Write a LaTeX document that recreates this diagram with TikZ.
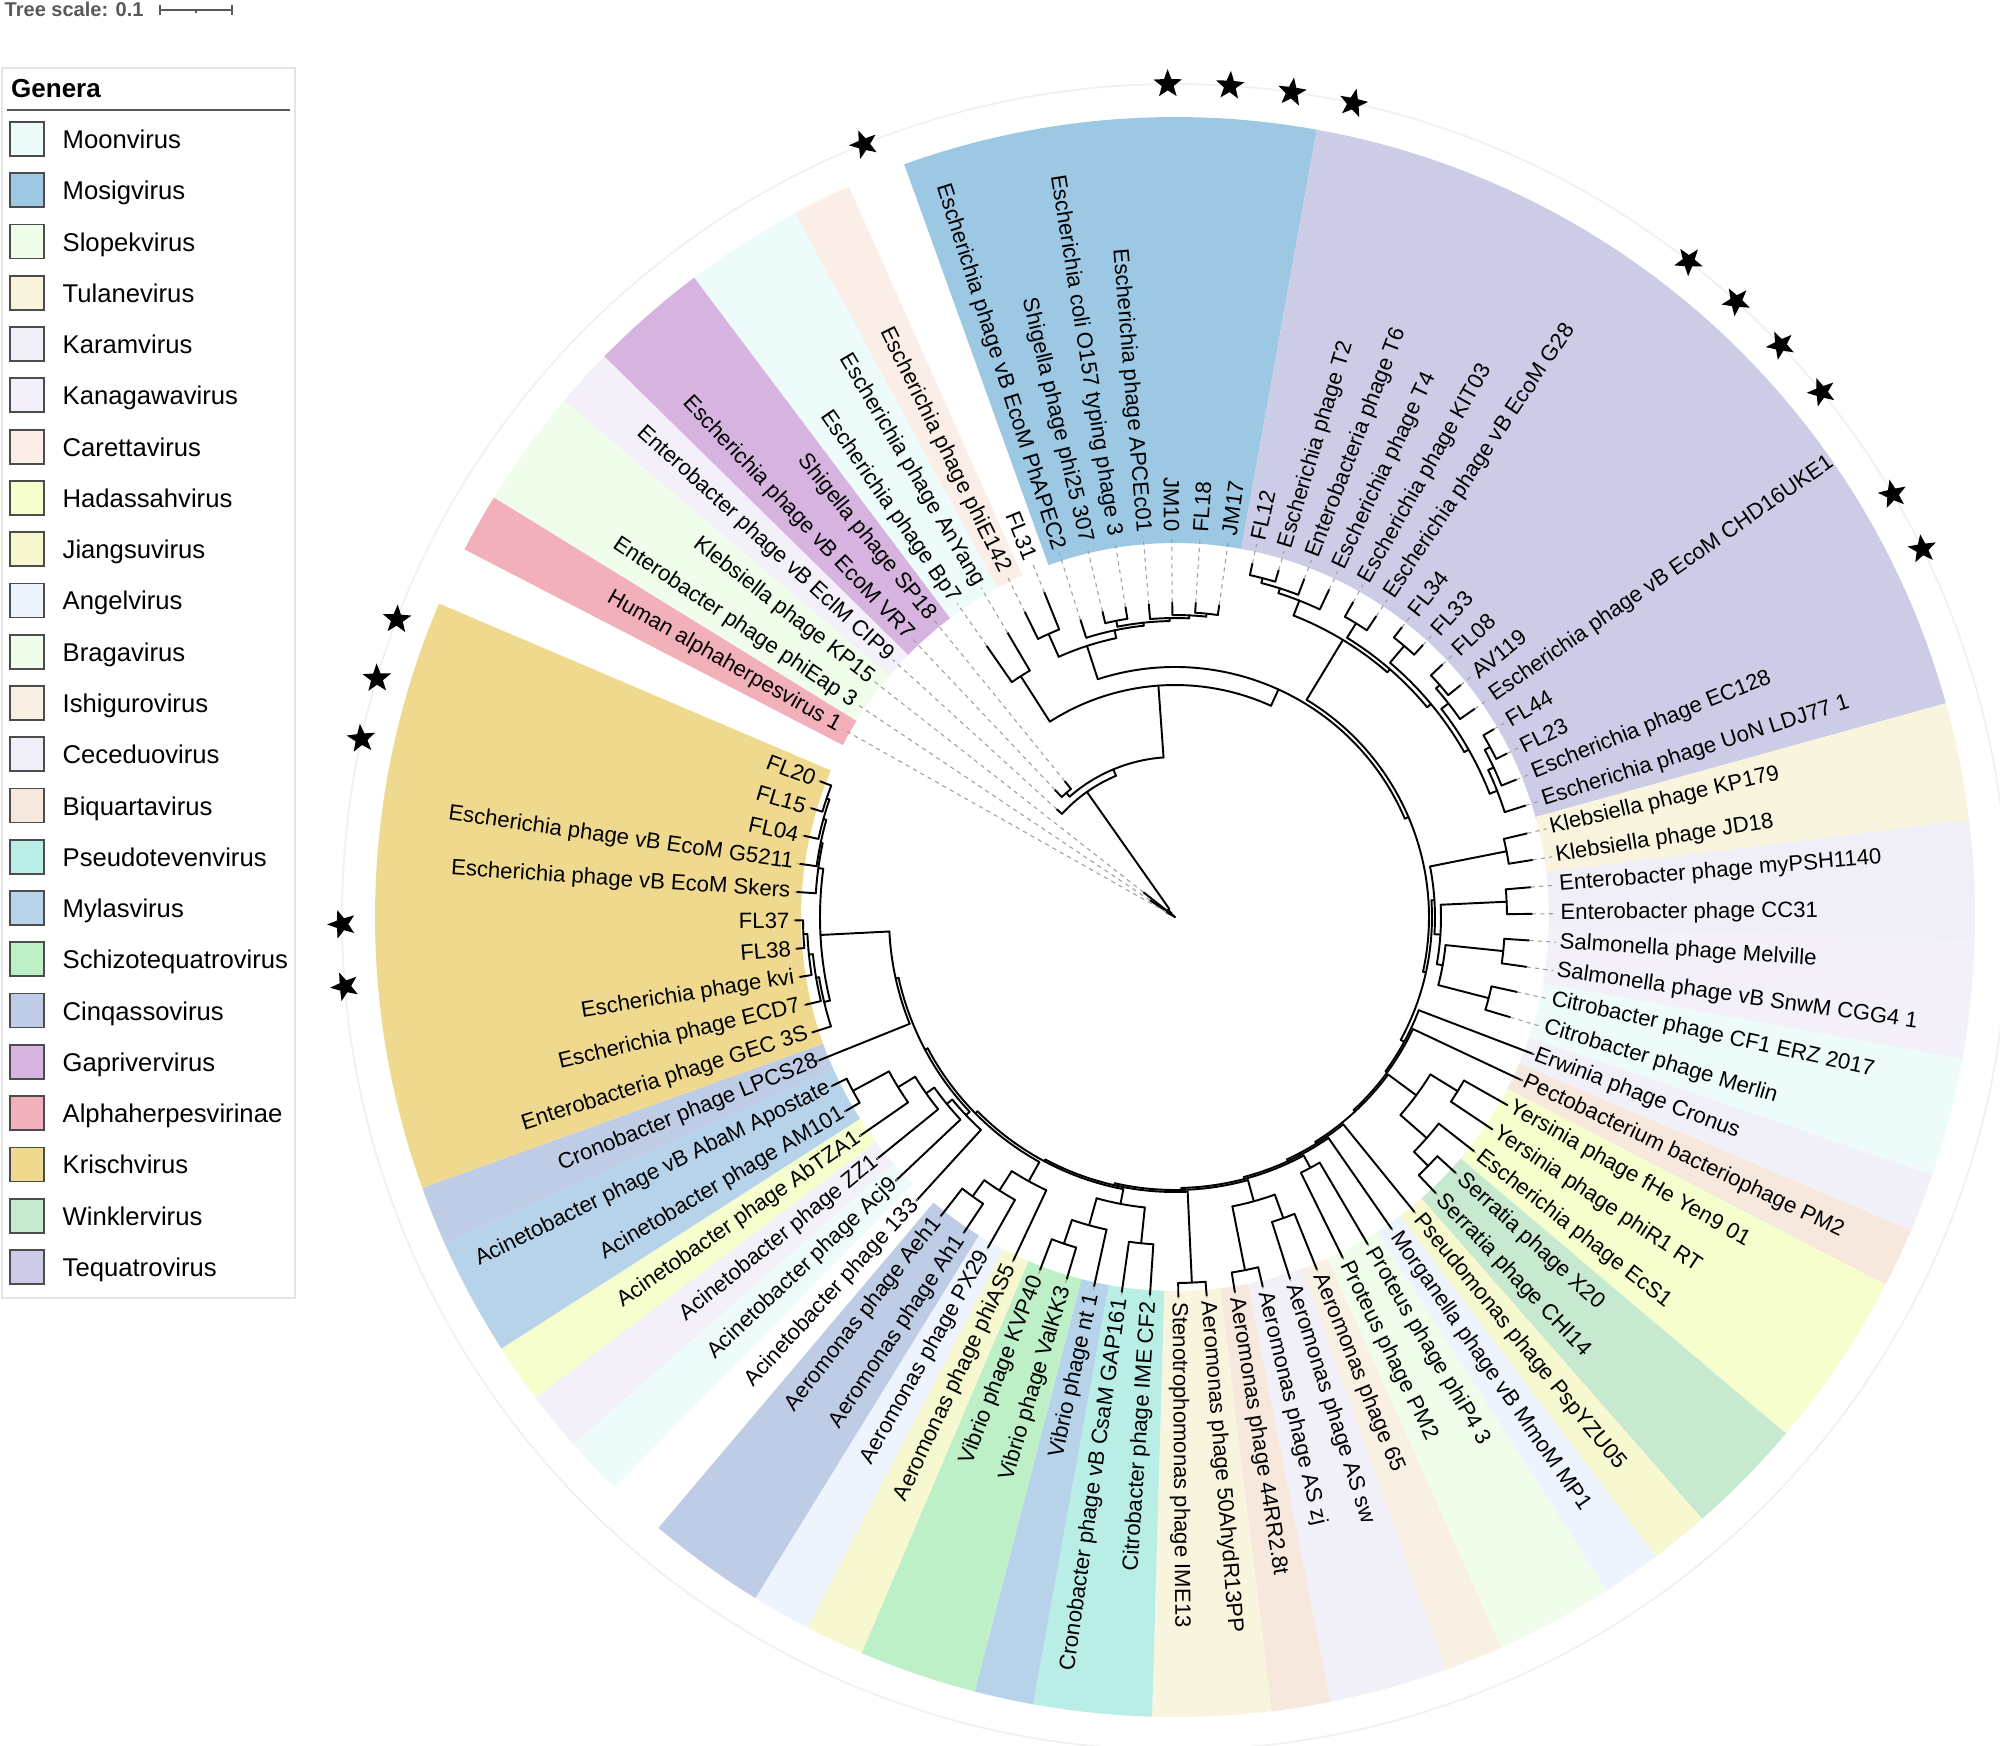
\documentclass[tikz,border=0pt]{standalone}
\usepackage{fontspec}
\setmainfont{Liberation Sans}
\usetikzlibrary{shapes.geometric}
\definecolor{cMoon}{HTML}{EEFBFB}
\definecolor{cMosig}{HTML}{9DC8E4}
\definecolor{cSlope}{HTML}{F0FDEA}
\definecolor{cTulane}{HTML}{F9F4DE}
\definecolor{cKaram}{HTML}{F0EFF8}
\definecolor{cKana}{HTML}{F3F0F9}
\definecolor{cCaret}{HTML}{FAEEE6}
\definecolor{cHadas}{HTML}{F5FECC}
\definecolor{cJiang}{HTML}{F7F7D0}
\definecolor{cAngel}{HTML}{EEF4FD}
\definecolor{cBraga}{HTML}{EFFDEA}
\definecolor{cIshig}{HTML}{F8F0E2}
\definecolor{cCeced}{HTML}{F1F0F8}
\definecolor{cBiq}{HTML}{F7E8DD}
\definecolor{cPseudo}{HTML}{B9EEE6}
\definecolor{cMylas}{HTML}{B7D3E9}
\definecolor{cSchizo}{HTML}{BEF0C7}
\definecolor{cCinq}{HTML}{BFCCE5}
\definecolor{cGapr}{HTML}{D6B4DF}
\definecolor{cAlpha}{HTML}{F2B0BB}
\definecolor{cKrisch}{HTML}{EFD98E}
\definecolor{cWinkl}{HTML}{C7E9CF}
\definecolor{cTeq}{HTML}{CDCCE6}
\definecolor{tscol}{HTML}{595959}
\def\aZ{150.5}\def\dA{4.2857}\def\Rl{3.85}\def\Rin{3.74}\def\Rout{8.00}
\newcommand\Ar[3]{\draw[brn] ({\aZ-\dA*(#1)}:#3) arc[start angle={\aZ-\dA*(#1)}, end angle={\aZ-\dA*(#2)}, radius=#3];}
\newcommand\Rd[3]{\draw[brn] ({\aZ-\dA*(#1)}:#2) -- ({\aZ-\dA*(#1)}:#3);}
\newcommand\Dl[2]{\draw[dsh] ({\aZ-\dA*(#1)}:#2) -- ({\aZ-\dA*(#1)}:\Rl-0.03);}
\newcommand\Lf[3]{\Rd{#1}{#2}{#3}\Dl{#1}{#3}}
\newcommand\Band[3]{\fill[#3] ({\aZ-\dA*(#1-0.5)}:\Rin) arc[start angle={\aZ-\dA*(#1-0.5)}, end angle={\aZ-\dA*(#2+0.5)}, radius=\Rin] -- ({\aZ-\dA*(#2+0.5)}:\Rout) arc[start angle={\aZ-\dA*(#2+0.5)}, end angle={\aZ-\dA*(#1-0.5)}, radius=\Rout] -- cycle;}
\newcommand\Lab[2]{%
  \pgfmathsetmacro\tA{\aZ-\dA*(#1)}%
  \pgfmathtruncatemacro\tS{(\tA<-90 || \tA>90) ? 1 : 0}%
  \ifnum\tS=1
    \node[lab, anchor=east, rotate=\tA+180] (L#1) at (\tA:\Rl) {#2};
  \else
    \node[lab, anchor=west, rotate=\tA] (L#1) at (\tA:\Rl) {#2};
  \fi}
\begin{document}
\begin{tikzpicture}[x=1cm,y=1cm,
  brn/.style={line width=0.55pt, line cap=round, line join=round},
  dsh/.style={draw=black!38, line width=0.3pt, dash pattern=on 1.2pt off 1.2pt},
  lab/.style={inner sep=0pt, font=\fontsize{6.3}{7}\selectfont},
  starm/.style={star, star points=5, star point ratio=2.4, fill=black, draw=none, minimum size=0.30cm, inner sep=0pt}]
\useasboundingbox (-11.75,-8.28) rectangle (8.25,9.17);
% ---------- coloured ranges
\Band{0}{0}{cAlpha}
\Band{1}{2}{cSlope}
\Band{3}{3}{cKana}
\Band{4}{5}{cGapr}
\Band{6}{7}{cMoon}
\Band{8}{8}{cCaret}
\Band{10}{16}{cMosig}
\Band{17}{31}{cTeq}
\Band{32}{33}{cTulane}
\Band{34}{35}{cKaram}
\Band{36}{37}{cKana}
\Band{38}{39}{cMoon}
\Band{40}{40}{cCeced}
\Band{41}{41}{cBiq}
\Band{42}{44}{cHadas}
\Band{45}{46}{cWinkl}
\Band{47}{47}{cJiang}
\Band{48}{48}{cAngel}
\Band{49}{50}{cBraga}
\Band{51}{51}{cIshig}
\Band{52}{53}{cCeced}
\Band{54}{54}{cBiq}
\Band{55}{56}{cTulane}
\Band{57}{58}{cPseudo}
\Band{59}{59}{cMylas}
\Band{60}{61}{cSchizo}
\Band{62}{62}{cJiang}
\Band{63}{63}{cAngel}
\Band{64}{65}{cCinq}
\Band{67}{67}{cMoon}
\Band{68}{68}{cKana}
\Band{69}{69}{cHadas}
\Band{70}{71}{cMylas}
\Band{72}{72}{cCinq}
\Band{73}{82}{cKrisch}
\draw[black!6, line width=0.5pt] (0,0) circle[radius=8.33];
% ---------- tree: Krischvirus
\Ar{81}{82}{3.68} \Lf{81}{3.68}{3.80} \Lf{82}{3.68}{3.80}
\Ar{80}{81.5}{3.65} \Lf{80}{3.65}{3.80} \Rd{81.5}{3.65}{3.68}
\Ar{79}{80.75}{3.62} \Lf{79}{3.62}{3.79} \Rd{80.75}{3.62}{3.65}
\Ar{78}{79.875}{3.60} \Lf{78}{3.60}{3.79} \Rd{79.875}{3.60}{3.62}
\Ar{76}{77}{3.72} \Lf{76}{3.72}{3.80} \Lf{77}{3.72}{3.80}
\Ar{75}{76.5}{3.68} \Lf{75}{3.68}{3.80} \Rd{76.5}{3.68}{3.72}
\Ar{74}{75.75}{3.64} \Lf{74}{3.64}{3.80} \Rd{75.75}{3.64}{3.68}
\Ar{73}{74.875}{3.61} \Lf{73}{3.61}{3.81} \Rd{74.875}{3.61}{3.64}
\Ar{73.94}{78.94}{3.55} \Rd{73.94}{3.55}{3.61} \Rd{78.94}{3.55}{3.60}
\Ar{72}{76.44}{2.86} \Lf{72}{2.86}{3.88} \Rd{76.44}{2.86}{3.55}
% Acinetobacter
\Ar{70}{71}{3.66} \Lf{70}{3.66}{3.83} \Lf{71}{3.66}{3.83}
\Ar{69}{70.5}{3.25} \Lf{69}{3.25}{3.84} \Rd{70.5}{3.25}{3.66}
\Ar{68}{69.75}{3.05} \Lf{68}{3.05}{3.84} \Rd{69.75}{3.05}{3.25}
\Ar{67}{68.875}{2.95} \Lf{67}{2.95}{3.84} \Rd{68.875}{2.95}{3.05}
\Ar{66}{67.94}{2.88} \Lf{66}{2.88}{3.84} \Rd{67.94}{2.88}{2.95}
\Ar{66.97}{74.22}{2.83} \Rd{66.97}{2.83}{2.88} \Rd{74.22}{2.83}{2.86}
% Aeromonas
\Ar{64}{65}{3.45} \Lf{64}{3.45}{3.80} \Lf{65}{3.45}{3.80}
\Ar{63}{64.5}{3.25} \Lf{63}{3.25}{3.80} \Rd{64.5}{3.25}{3.45}
\Ar{62}{63.75}{3.02} \Lf{62}{3.02}{3.80} \Rd{63.75}{3.02}{3.25}
\Ar{62.875}{70.59}{2.80} \Rd{62.875}{2.80}{3.02} \Rd{70.59}{2.80}{2.83}
% Vibrio / Cronobacter
\Ar{60}{61}{3.45} \Lf{60}{3.45}{3.78} \Lf{61}{3.45}{3.78}
\Ar{59}{60.5}{3.20} \Lf{59}{3.20}{3.78} \Rd{60.5}{3.20}{3.45}
\Ar{57}{58}{3.28} \Lf{57}{3.28}{3.79} \Lf{58}{3.28}{3.79}
\Ar{57.5}{59.75}{2.92} \Rd{57.5}{2.92}{3.28} \Rd{59.75}{2.92}{3.20}
\Ar{58.625}{66.73}{2.77} \Rd{58.625}{2.77}{2.92} \Rd{66.73}{2.77}{2.80}
% Stenotrophomonas
\Ar{55}{56}{3.66} \Lf{55}{3.66}{3.80} \Lf{56}{3.66}{3.80}
\Ar{55.5}{62.68}{2.75} \Rd{55.5}{2.75}{3.66} \Rd{62.68}{2.75}{2.77}
% Aeromonas AS
\Ar{53}{54}{3.60} \Lf{53}{3.60}{3.80} \Lf{54}{3.60}{3.80}
\Ar{51}{52}{3.20} \Lf{51}{3.20}{3.80} \Lf{52}{3.20}{3.80}
\Ar{51.5}{53.5}{2.95} \Rd{51.5}{2.95}{3.20} \Rd{53.5}{2.95}{3.60}
\Ar{52.5}{59.09}{2.73} \Rd{52.5}{2.73}{2.95} \Rd{59.09}{2.73}{2.75}
% Proteus, Morganella, Pseudomonas
\Ar{49}{50}{2.85} \Lf{49}{2.85}{3.80} \Lf{50}{2.85}{3.80}
\Ar{49.5}{55.8}{2.71} \Rd{49.5}{2.71}{2.85} \Rd{55.8}{2.71}{2.73}
\Ar{48}{52.65}{2.69} \Lf{48}{2.69}{3.80} \Rd{52.65}{2.69}{2.71}
\Ar{47}{50.33}{2.67} \Lf{47}{2.67}{3.80} \Rd{50.33}{2.67}{2.69}
% Yersinia / Serratia
\Ar{45}{46}{3.55} \Lf{45}{3.55}{3.80} \Lf{46}{3.55}{3.80}
\Ar{44}{45.5}{3.35} \Lf{44}{3.35}{3.80} \Rd{45.5}{3.35}{3.55}
\Ar{42}{43}{3.32} \Lf{42}{3.32}{3.82} \Lf{43}{3.32}{3.82}
\Ar{42.5}{44.75}{3.00} \Rd{42.5}{3.00}{3.32} \Rd{44.75}{3.00}{3.35}
\Ar{43.625}{48.66}{2.65} \Rd{43.625}{2.65}{3.00} \Rd{48.66}{2.65}{2.67}
\Ar{41}{46.14}{2.63} \Lf{41}{2.63}{3.84} \Rd{46.14}{2.63}{2.65}
\Ar{40}{43.57}{2.61} \Lf{40}{2.61}{3.84} \Rd{43.57}{2.61}{2.63}
% right-hand Enterobacteriaceae
\Ar{32}{33}{3.38} \Lf{32}{3.38}{3.62} \Lf{33}{3.38}{3.62}
\Ar{34}{35}{3.32} \Lf{34}{3.32}{3.57} \Lf{35}{3.32}{3.57}
\Ar{36}{37}{3.30} \Lf{36}{3.30}{3.55} \Lf{37}{3.30}{3.55}
\Ar{38}{39}{3.24} \Lf{38}{3.24}{3.50} \Lf{39}{3.24}{3.50}
\Ar{36.5}{38.5}{2.72} \Rd{36.5}{2.72}{3.30} \Rd{38.5}{2.72}{3.24}
\Ar{34.5}{37.5}{2.66} \Rd{34.5}{2.66}{3.32} \Rd{37.5}{2.66}{2.72}
\Ar{32.5}{36}{2.60} \Rd{32.5}{2.60}{3.38} \Rd{36}{2.60}{2.66}
\Ar{34.25}{41.78}{2.57} \Rd{34.25}{2.57}{2.60} \Rd{41.78}{2.57}{2.61}
% Tequatrovirus
\Ar{17}{18}{3.50} \Lf{17}{3.50}{3.62} \Lf{18}{3.50}{3.62}
\Ar{17.5}{19}{3.45} \Rd{17.5}{3.45}{3.50} \Lf{19}{3.45}{3.62}
\Ar{18.25}{20}{3.40} \Rd{18.25}{3.40}{3.45} \Lf{20}{3.40}{3.62}
\Ar{21}{22}{3.45} \Lf{21}{3.45}{3.62} \Lf{22}{3.45}{3.62}
\Ar{23}{24}{3.55} \Lf{23}{3.55}{3.68} \Lf{24}{3.55}{3.68}
\Ar{25}{26}{3.52} \Lf{25}{3.52}{3.68} \Lf{26}{3.52}{3.68}
\Ar{25.5}{27}{3.47} \Rd{25.5}{3.47}{3.52} \Lf{27}{3.47}{3.65}
\Ar{28}{29}{3.58} \Lf{28}{3.58}{3.70} \Lf{29}{3.58}{3.70}
\Ar{28.5}{30}{3.52} \Rd{28.5}{3.52}{3.58} \Lf{30}{3.52}{3.68}
\Ar{29.25}{31}{3.46} \Rd{29.25}{3.46}{3.52} \Lf{31}{3.46}{3.68}
\Ar{26.25}{30.125}{3.38} \Rd{26.25}{3.38}{3.47} \Rd{30.125}{3.38}{3.46}
\Ar{23.5}{28.19}{3.33} \Rd{23.5}{3.33}{3.55} \Rd{28.19}{3.33}{3.38}
\Ar{21.5}{25.84}{3.28} \Rd{21.5}{3.28}{3.45} \Rd{25.84}{3.28}{3.33}
\Ar{19.125}{23.67}{3.24} \Rd{19.125}{3.24}{3.40} \Rd{23.67}{3.24}{3.28}
\Ar{21.40}{38.02}{2.54} \Rd{21.40}{2.54}{3.24} \Rd{38.02}{2.54}{2.57}
% Mosigvirus and neighbours
\Ar{15}{16}{3.05} \Lf{15}{3.05}{3.15} \Lf{16}{3.05}{3.15}
\Ar{14}{15.5}{3.02} \Lf{14}{3.02}{3.15} \Rd{15.5}{3.02}{3.05}
\Ar{13}{14.75}{2.99} \Lf{13}{2.99}{3.14} \Rd{14.75}{2.99}{3.02}
\Ar{11}{12}{3.02} \Lf{11}{3.02}{3.14} \Lf{12}{3.02}{3.14}
\Ar{11.5}{13.875}{2.96} \Rd{11.5}{2.96}{3.02} \Rd{13.875}{2.96}{2.99}
\Ar{10}{12.69}{2.93} \Lf{10}{2.93}{3.12} \Rd{12.69}{2.93}{2.96}
\Ar{8}{9}{3.10} \Lf{8}{3.10}{3.40} \Lf{9}{3.10}{3.50}
\Ar{8.5}{11.34}{2.85} \Rd{8.5}{2.85}{3.10} \Rd{11.34}{2.85}{2.93}
\Ar{9.92}{29.71}{2.50} \Rd{9.92}{2.50}{2.85} \Rd{29.71}{2.50}{2.54}
\Ar{6}{7}{2.86} \Lf{6}{2.86}{3.30} \Lf{7}{2.86}{3.30}
\Ar{6.5}{19.82}{2.32} \Rd{6.5}{2.32}{2.86} \Rd{19.82}{2.32}{2.50}
\Ar{4}{5}{1.65} \Lf{4}{1.65}{1.75} \Lf{5}{1.65}{1.75}
\Ar{4.5}{13.16}{1.60} \Rd{4.5}{1.60}{1.65} \Rd{13.16}{1.60}{2.32}
\Ar{3}{8.83}{1.53} \Lf{3}{1.53}{1.60} \Rd{8.83}{1.53}{1.60}
\Ar{2}{5.915}{0.10} \Lf{2}{0.10}{0.40} \Rd{5.915}{0.10}{1.53}
\Ar{1}{3.96}{0.05} \Lf{1}{0.05}{0.30} \Rd{3.96}{0.05}{0.10}
\Lf{0}{0}{0.10} \Rd{2.48}{0}{0.05}
% ---------- leaf labels
\Lab{0}{Human alphaherpesvirus 1}
\Lab{1}{Enterobacter phage phiEap 3}
\Lab{2}{Klebsiella phage KP15}
\Lab{3}{Enterobacter phage vB EclM CIP9}
\Lab{4}{Escherichia phage vB EcoM VR7}
\Lab{5}{Shigella phage SP18}
\Lab{6}{Escherichia phage Bp7}
\Lab{7}{Escherichia phage AnYang}
\Lab{8}{Escherichia phage phiE142}
\Lab{9}{FL31}
\Lab{10}{Escherichia phage vB EcoM PhAPEC2}
\Lab{11}{Shigella phage phi25 307}
\Lab{12}{Escherichia coli O157 typing phage 3}
\Lab{13}{Escherichia phage APCEc01}
\Lab{14}{JM10}
\Lab{15}{FL18}
\Lab{16}{JM17}
\Lab{17}{FL12}
\Lab{18}{Escherichia phage T2}
\Lab{19}{Enterobacteria phage T6}
\Lab{20}{Escherichia phage T4}
\Lab{21}{Escherichia phage KIT03}
\Lab{22}{Escherichia phage vB EcoM G28}
\Lab{23}{FL34}
\Lab{24}{FL33}
\Lab{25}{FL08}
\Lab{26}{AV119}
\Lab{27}{Escherichia phage vB EcoM CHD16UKE1}
\Lab{28}{FL44}
\Lab{29}{FL23}
\Lab{30}{Escherichia phage EC128}
\Lab{31}{Escherichia phage UoN LDJ77 1}
\Lab{32}{Klebsiella phage KP179}
\Lab{33}{Klebsiella phage JD18}
\Lab{34}{Enterobacter phage myPSH1140}
\Lab{35}{Enterobacter phage CC31}
\Lab{36}{Salmonella phage Melville}
\Lab{37}{Salmonella phage vB SnwM CGG4 1}
\Lab{38}{Citrobacter phage CF1 ERZ 2017}
\Lab{39}{Citrobacter phage Merlin}
\Lab{40}{Erwinia phage Cronus}
\Lab{41}{Pectobacterium bacteriophage PM2}
\Lab{42}{Yersinia phage fHe Yen9 01}
\Lab{43}{Yersinia phage phiR1 RT}
\Lab{44}{Escherichia phage EcS1}
\Lab{45}{Serratia phage X20}
\Lab{46}{Serratia phage CHI14}
\Lab{47}{Pseudomonas phage PspYZU05}
\Lab{48}{Morganella phage vB MmoM MP1}
\Lab{49}{Proteus phage phiP4 3}
\Lab{50}{Proteus phage PM2}
\Lab{51}{Aeromonas phage 65}
\Lab{52}{Aeromonas phage AS sw}
\Lab{53}{Aeromonas phage AS zj}
\Lab{54}{Aeromonas phage 44RR2.8t}
\Lab{55}{Aeromonas phage 50AhydR13PP}
\Lab{56}{Stenotrophomonas phage IME13}
\Lab{57}{Citrobacter phage IME CF2}
\Lab{58}{Cronobacter phage vB CsaM GAP161}
\Lab{59}{Vibrio phage nt 1}
\Lab{60}{Vibrio phage ValKK3}
\Lab{61}{Vibrio phage KVP40}
\Lab{62}{Aeromonas phage phiAS5}
\Lab{63}{Aeromonas phage PX29}
\Lab{64}{Aeromonas phage Ah1}
\Lab{65}{Aeromonas phage Aeh1}
\Lab{66}{Acinetobacter phage 133}
\Lab{67}{Acinetobacter phage Acj9}
\Lab{68}{Acinetobacter phage ZZ1}
\Lab{69}{Acinetobacter phage AbTZA1}
\Lab{70}{Acinetobacter phage AM101}
\Lab{71}{Acinetobacter phage vB AbaM Apostate}
\Lab{72}{Cronobacter phage LPCS28}
\Lab{73}{Enterobacteria phage GEC 3S}
\Lab{74}{Escherichia phage ECD7}
\Lab{75}{Escherichia phage kvi}
\Lab{76}{FL38}
\Lab{77}{FL37}
\Lab{78}{Escherichia phage vB EcoM Skers}
\Lab{79}{Escherichia phage vB EcoM G5211}
\Lab{80}{FL04}
\Lab{81}{FL15}
\Lab{82}{FL20}
% ---------- stars
\foreach \s in {9,14,15,16,17,23,24,25,26,28,29,76,77,80,81,82}
  \node[starm, rotate={\aZ-\dA*\s-90}] (st\s) at ({\aZ-\dA*\s}:8.33) {};
% ---------- legend and scale
\begin{scope}[shift={(-11.75,9.17)}]
  \node[anchor=base west, inner sep=0pt, text=tscol, font=\bfseries\fontsize{5.7}{6}\selectfont] (tsc) at (0.04,-0.16) {Tree scale: 0.1};
  \draw[tscol, line width=0.5pt] (1.60,-0.10) -- (2.32,-0.10);
  \draw[tscol, line width=0.5pt] (1.60,-0.05) -- (1.60,-0.15);
  \draw[tscol, line width=0.5pt] (2.32,-0.05) -- (2.32,-0.15);
  \draw[tscol, line width=0.4pt] (1.96,-0.10) -- (1.96,-0.13);
  \draw[black!10, line width=0.4pt] (0.02,-0.68) rectangle (2.95,-12.98);
  \node[anchor=base west, inner sep=0pt, font=\bfseries\fontsize{7.4}{8}\selectfont] (gen) at (0.105,-0.97) {Genera};
  \draw[black!65, line width=0.5pt] (0.07,-1.10) -- (2.90,-1.10);
  \foreach \nm/\cl [count=\i from 0] in {Moonvirus/cMoon, Mosigvirus/cMosig, Slopekvirus/cSlope, Tulanevirus/cTulane, Karamvirus/cKaram, Kanagawavirus/cKana, Carettavirus/cCaret, Hadassahvirus/cHadas, Jiangsuvirus/cJiang, Angelvirus/cAngel, Bragavirus/cBraga, Ishigurovirus/cIshig, Ceceduovirus/cCeced, Biquartavirus/cBiq, Pseudotevenvirus/cPseudo, Mylasvirus/cMylas, Schizotequatrovirus/cSchizo, Cinqassovirus/cCinq, Gaprivervirus/cGapr, Alphaherpesvirinae/cAlpha, Krischvirus/cKrisch, Winklervirus/cWinkl, Tequatrovirus/cTeq} {
    \pgfmathsetmacro\yy{-(1.39+0.5127*\i)}
    \node[draw=black!70, line width=0.5pt, fill=\cl, minimum width=0.34cm, minimum height=0.34cm, inner sep=0pt] (sw\i) at (0.27,\yy) {};
    \node[anchor=base west, inner sep=0pt, font=\fontsize{7.3}{8}\selectfont] (lg\i) at (0.62,\yy-0.095) {\nm};
  }
\end{scope}
\end{tikzpicture}
\end{document}
